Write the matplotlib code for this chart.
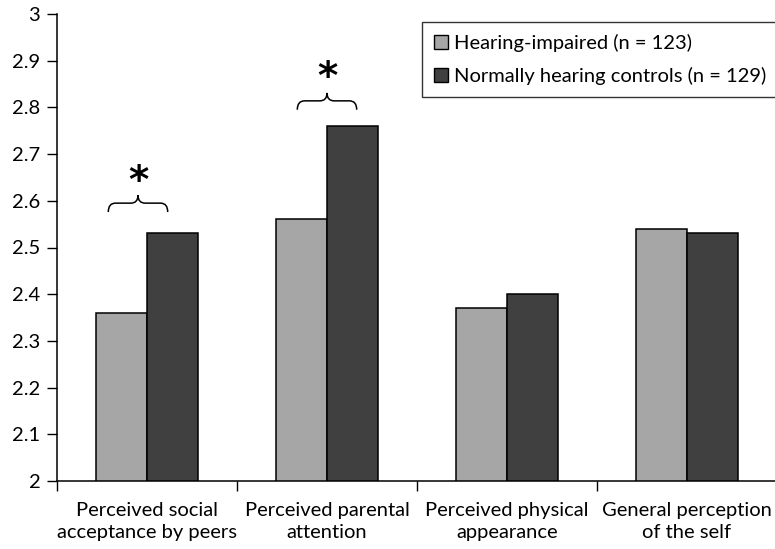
import matplotlib
matplotlib.use('Agg')
import matplotlib.pyplot as plt
import numpy as np
from matplotlib.path import Path
from matplotlib.patches import PathPatch, Patch

plt.rcParams['font.family'] = ['Lato', 'DejaVu Sans']

categories = ['Perceived social\nacceptance by peers', 'Perceived parental\nattention',
              'Perceived physical\nappearance', 'General perception\nof the self']
impaired = [2.36, 2.56, 2.37, 2.54]
controls = [2.53, 2.76, 2.40, 2.53]
series_names = ['Hearing-impaired (n = 123)', 'Normally hearing controls (n = 129)']
yticks = [2.0, 2.1, 2.2, 2.3, 2.4, 2.5, 2.6, 2.7, 2.8, 2.9, 3.0]
# significant groups: (group index, brace centre offset, brace level, star level)
signif = [(0, -0.05, 2.595, 2.64), (1, 0.0, 2.814, 2.862)]

gray = '#a6a6a6'
dark = '#404040'
fs = 14.5

fig = plt.figure(figsize=(7.75, 5.49), dpi=100)
ax = fig.add_axes([57/775, 1 - 481/549, 720/775, 467/549])

x = np.arange(len(categories))
w = 0.285
ax.bar(x - w/2, impaired, w, color=gray, edgecolor='black', linewidth=1.1, zorder=2)
ax.bar(x + w/2, controls, w, color=dark, edgecolor='black', linewidth=1.1, zorder=2)

ax.set_xlim(-0.5, 3.5)
ax.set_ylim(2, 3)
ax.set_yticks(yticks)
ax.set_yticklabels([f'{v:g}' for v in yticks], fontsize=fs)
ax.set_xticks(x)
ax.set_xticklabels(categories, fontsize=fs, linespacing=1.4)
ax.set_xticks(np.arange(-0.5, 3.6, 1), minor=True)
ax.tick_params(axis='x', which='major', length=0, pad=15)
ax.tick_params(axis='x', which='minor', length=7, direction='out', width=1)
ax.tick_params(axis='y', length=7, direction='out', width=1, pad=5)
ax.spines['top'].set_visible(False)
ax.spines['right'].set_visible(False)
ax.spines['left'].set_linewidth(1.1)
ax.spines['bottom'].set_linewidth(1.1)


def brace(ax, xc, y, half, up=0.017, down=0.019, d=0.04):
    x0, x1 = xc - half, xc + half
    verts = [(x0, y - down), (x0, y), (x0 + d, y),
             (xc - d, y), (xc, y), (xc, y + up),
             (xc, y), (xc + d, y),
             (x1 - d, y), (x1, y), (x1, y - down)]
    codes = [Path.MOVETO, Path.CURVE3, Path.CURVE3,
             Path.LINETO, Path.CURVE3, Path.CURVE3,
             Path.CURVE3, Path.CURVE3,
             Path.LINETO, Path.CURVE3, Path.CURVE3]
    ax.add_patch(PathPatch(Path(verts, codes), fill=False, lw=1.1, color='black', zorder=3))


for gi, off, yb, ys in signif:
    brace(ax, gi + off, yb, 0.165)
    ax.text(gi + off, ys, '*', fontsize=28, fontweight='bold', ha='center', va='center',
            family='DejaVu Sans', zorder=3)

handles = [Patch(facecolor=gray, edgecolor='black', lw=1), Patch(facecolor=dark, edgecolor='black', lw=1)]
leg = fig.legend(handles, series_names, loc='upper left', bbox_to_anchor=(422/775, 1 - 22/549),
                 fontsize=fs, frameon=True, fancybox=False, edgecolor='black',
                 handlelength=0.7, handleheight=0.7, handletextpad=0.3, labelspacing=0.75,
                 borderpad=0.6, borderaxespad=0)
leg.get_frame().set_linewidth(1.0)

fig.savefig('out.png', dpi=100)
